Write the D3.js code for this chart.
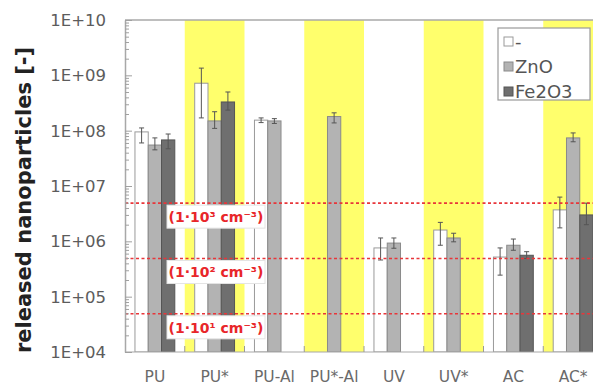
<!DOCTYPE html>
<html>
<head>
<meta charset="utf-8">
<script src="https://cdn.jsdelivr.net/npm/d3@7"></script>
<style>
  html, body { margin: 0; padding: 0; background: #fff; }
  svg { display: block; }
</style>
</head>
<body>
<svg id="chart" width="593" height="387"></svg>
<script>
// Treatments along the x axis; starred ones are shaded yellow
const categories = ["PU", "PU*", "PU-Al", "PU*-Al", "UV", "UV*", "AC", "AC*"];
const shaded = [false, true, false, true, false, true, false, true];

// Series (nanoparticle additive)
const seriesNames = ["-", "ZnO", "Fe2O3"];

// Mean released particle counts, with lower / upper error bounds (null = not measured)
const valuesNone  = [9.5e7, 7.2e8, 1.55e8, null, 7.6e5, 1.6e6, 5.2e5, 3.7e6];
const lowNone     = [6.0e7, 1.7e8, 1.4e8, null, 4.6e5, 8.5e5, 2.45e5, 1.75e6];
const highNone    = [1.12e8, 1.35e9, 1.7e8, null, 1.15e6, 2.2e6, 7.6e5, 6.3e6];

const valuesZnO   = [5.5e7, 1.5e8, 1.5e8, 1.8e8, 9.3e5, 1.15e6, 8.5e5, 7.4e7];
const lowZnO      = [4.5e7, 1.1e8, 1.35e8, 1.38e8, 7.5e5, 9.8e5, 6.9e5, 6.3e7];
const highZnO     = [7.4e7, 2.2e8, 1.65e8, 2.1e8, 1.15e6, 1.4e6, 1.1e6, 9.1e7];

const valuesFe2O3 = [6.8e7, 3.3e8, null, null, null, null, 5.6e5, 3.0e6];
const lowFe2O3    = [4.7e7, 2.35e8, null, null, null, null, 4.9e5, 2.0e6];
const highFe2O3   = [8.7e7, 5.0e8, null, null, null, null, 6.5e5, 4.9e6];

// Concentration reference levels
const thresholdValues = [4.9e6, 4.9e5, 4.9e4];
const thresholdLabels = ["(1·10³ cm⁻³)", "(1·10² cm⁻³)", "(1·10¹ cm⁻³)"];

// Y axis decades
const yTickValues = [1e4, 1e5, 1e6, 1e7, 1e8, 1e9, 1e10];
const yTickLabels = ["1E+04", "1E+05", "1E+06", "1E+07", "1E+08", "1E+09", "1E+10"];

const yTitle = "released nanoparticles [-]";

const fills   = ["#ffffff", "#b3b3b3", "#6f6f6f"];
const strokes = ["#9a9a9a", "#8a8a8a", "#555555"];

const svg = d3.select("#chart");
const W = 593, H = 387;
const plot = { left: 125, top: 20, right: 603, bottom: 352 };

const x = d3.scaleBand().domain(categories).range([plot.left, plot.right]).padding(0);
const xs = d3.scaleBand().domain(d3.range(seriesNames.length))
  .range([x.bandwidth() / 6, x.bandwidth() * 5 / 6]).padding(0);
const y = d3.scaleLog().domain([1e4, 1e10]).range([plot.bottom, plot.top]);

const series = [
  { v: valuesNone,  lo: lowNone,  hi: highNone },
  { v: valuesZnO,   lo: lowZnO,   hi: highZnO },
  { v: valuesFe2O3, lo: lowFe2O3, hi: highFe2O3 }
];

svg.append("defs").append("clipPath").attr("id", "plotclip")
  .append("rect").attr("x", plot.left).attr("y", plot.top)
  .attr("width", W - plot.left).attr("height", plot.bottom - plot.top);

const g = svg.append("g").attr("clip-path", "url(#plotclip)");

// Shaded yellow columns
g.selectAll("rect.band")
  .data(categories.filter((c, i) => shaded[i]))
  .join("rect")
  .attr("class", "band")
  .attr("x", d => x(d))
  .attr("y", plot.top)
  .attr("width", x.bandwidth())
  .attr("height", plot.bottom - plot.top)
  .attr("fill", "#ffff6c");

// Bars
series.forEach((s, si) => {
  const pts = categories.map((c, i) => ({ c, v: s.v[i], lo: s.lo[i], hi: s.hi[i] }))
    .filter(d => d.v != null);
  const bw = xs.bandwidth();
  g.selectAll(null).data(pts).join("rect")
    .attr("x", d => x(d.c) + xs(si))
    .attr("y", d => y(d.v))
    .attr("width", bw)
    .attr("height", d => plot.bottom - y(d.v))
    .attr("fill", fills[si])
    .attr("stroke", strokes[si])
    .attr("stroke-width", 1);

  // Error bars
  const eg = g.selectAll(null).data(pts).join("g")
    .attr("stroke", "#555")
    .attr("stroke-width", 1);
  eg.append("line")
    .attr("x1", d => x(d.c) + xs(si) + bw / 2)
    .attr("x2", d => x(d.c) + xs(si) + bw / 2)
    .attr("y1", d => y(d.lo))
    .attr("y2", d => y(d.hi));
  [ "lo", "hi" ].forEach(k => {
    eg.append("line")
      .attr("x1", d => x(d.c) + xs(si) + bw / 2 - 2.5)
      .attr("x2", d => x(d.c) + xs(si) + bw / 2 + 2.5)
      .attr("y1", d => y(d[k]))
      .attr("y2", d => y(d[k]));
  });
});

// Reference level lines (dashed red)
g.selectAll("line.ref").data(thresholdValues).join("line")
  .attr("class", "ref")
  .attr("x1", plot.left).attr("x2", W)
  .attr("y1", d => y(d)).attr("y2", d => y(d))
  .attr("stroke", "#e8363a")
  .attr("stroke-width", 1.6)
  .attr("stroke-dasharray", "3,2.5");

// Reference level labels in white boxes
const lab = svg.append("g");
thresholdValues.forEach((v, i) => {
  const yy = y(v);
  lab.append("rect")
    .attr("x", 167).attr("y", yy + 2)
    .attr("width", 98).attr("height", 23)
    .attr("fill", "#fff")
    .attr("stroke", "#e4e4e4").attr("stroke-width", 1);
  lab.append("text")
    .attr("x", 216).attr("y", yy + 19)
    .attr("text-anchor", "middle")
    .attr("font-family", "DejaVu Sans")
    .attr("font-weight", "bold")
    .attr("font-size", 14)
    .attr("fill", "#e8262a")
    .text(thresholdLabels[i]);
});

// Frame
svg.append("line").attr("x1", plot.left).attr("x2", W).attr("y1", plot.top).attr("y2", plot.top)
  .attr("stroke", "#a8a8a8").attr("stroke-width", 1.5);
svg.append("line").attr("x1", plot.left).attr("x2", W).attr("y1", plot.bottom).attr("y2", plot.bottom)
  .attr("stroke", "#a8a8a8").attr("stroke-width", 1.2);

// Y axis with inward log ticks
const yAxis = d3.axisRight(y)
  .tickValues(d3.range(4, 10).flatMap(e => d3.range(1, 10).map(m => m * Math.pow(10, e))).concat([1e10]))
  .tickSize(0)
  .tickFormat("");
const ya = svg.append("g").attr("transform", `translate(${plot.left},0)`).call(yAxis);
ya.select(".domain").attr("stroke", "#a8a8a8").attr("stroke-width", 1.5);
ya.selectAll(".tick line")
  .attr("x2", d => yTickValues.includes(d) ? 7 : 4)
  .attr("stroke", "#a0a0a0");

svg.append("g").selectAll("text").data(yTickValues).join("text")
  .attr("x", 106).attr("y", d => y(d) + 6)
  .attr("text-anchor", "end")
  .attr("font-family", "DejaVu Sans")
  .attr("font-size", 16.5)
  .attr("fill", "#5c5c5c")
  .text((d, i) => yTickLabels[i]);

// X axis labels and category boundary ticks
const xAxis = d3.axisBottom(x).tickSize(0).tickPadding(19);
const xa = svg.append("g").attr("transform", `translate(0,${plot.bottom})`).call(xAxis);
xa.select(".domain").remove();
xa.selectAll(".tick text")
  .attr("font-family", "DejaVu Sans")
  .attr("font-size", 15.5)
  .attr("fill", "#6a6a6a");

svg.append("g").selectAll("line").data(categories.slice(1)).join("line")
  .attr("x1", d => x(d)).attr("x2", d => x(d))
  .attr("y1", plot.bottom).attr("y2", plot.bottom - 6)
  .attr("stroke", "#999");

// Y title
svg.append("text")
  .attr("transform", `translate(31,${(plot.top + plot.bottom) / 2 + 14}) rotate(-90)`)
  .attr("text-anchor", "middle")
  .attr("font-family", "DejaVu Sans")
  .attr("font-weight", "bold")
  .attr("font-size", 21)
  .attr("fill", "#222")
  .text(yTitle);

// Legend
const lg = svg.append("g").attr("transform", "translate(498,28)");
lg.append("rect").attr("width", 92).attr("height", 72)
  .attr("fill", "#fff").attr("stroke", "#9a9a9a").attr("stroke-width", 1.2);
seriesNames.forEach((n, i) => {
  const yy = 14 + i * 25;
  lg.append("rect").attr("x", 6).attr("y", yy - 5).attr("width", 9).attr("height", 9)
    .attr("fill", fills[i]).attr("stroke", strokes[i]);
  lg.append("text").attr("x", 17).attr("y", yy + 6)
    .attr("font-family", "DejaVu Sans").attr("font-size", 18)
    .attr("fill", "#555")
    .text(n);
});
</script>
</body>
</html>
